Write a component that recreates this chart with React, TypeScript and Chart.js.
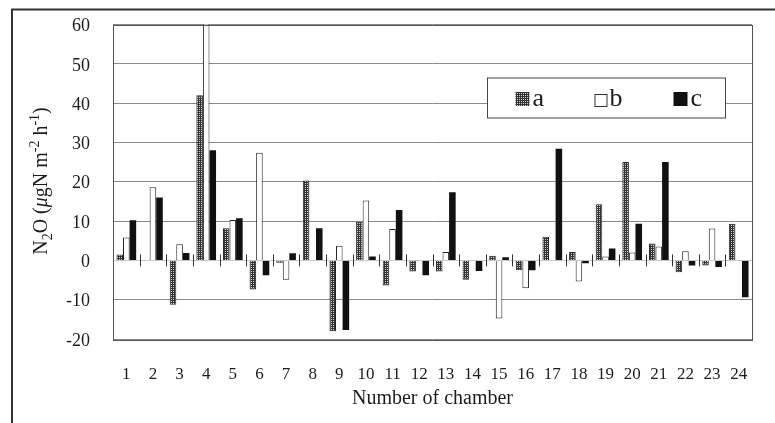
import React, { useEffect, useRef } from "react";
import { Chart, registerables } from "chart.js";

Chart.register(...registerables);

const chambers = ["1","2","3","4","5","6","7","8","9","10","11","12","13","14","15","16","17","18","19","20","21","22","23","24"];
const seriesA = [1.5, 0, -11.3, 42, 8.2, -7.4, -0.6, 20.3, -18, 9.8, -6.4, -2.8, -2.8, -4.9, 1.2, -2.5, 6, 2.1, 14.3, 25, 4.3, -3, -1.3, 9.3];
const seriesB = [5.8, 18.6, 4.1, 65, 10.3, 27.4, -4.9, 0, 3.7, 15.2, 8, 0, 2.1, 0, -14.8, -7.1, 0, -5.4, 1, 2, 3.5, 2.3, 8.1, 0];
const seriesC = [10.2, 16, 1.9, 28, 10.7, -3.8, 1.8, 8.2, -17.7, 1, 12.8, -3.8, 17.3, -2.7, 0.8, -2.5, 28.4, -0.7, 3, 9.3, 25, -1.3, -1.7, -9.4];
const seriesLabels = ["a", "b", "c"];
const yTicksMin = -20;
const yTicksMax = 60;
const yStep = 10;

const SERIF = "'Liberation Serif', 'Times New Roman', serif";
const INK = "#1c1c1c";

function makePattern(): CanvasPattern | string {
  const pc = document.createElement("canvas");
  pc.width = 4;
  pc.height = 4;
  const p = pc.getContext("2d");
  if (!p) return "#555";
  p.fillStyle = "#333333";
  p.fillRect(0, 0, 4, 4);
  p.fillStyle = "#cfcfcf";
  p.fillRect(1, 1, 1, 1);
  p.fillRect(3, 3, 1, 1);
  p.fillRect(1, 3, 1, 1);
  p.fillRect(3, 1, 1, 1);
  const ctx = document.createElement("canvas").getContext("2d");
  const pat = ctx ? ctx.createPattern(pc, "repeat") : null;
  return pat || "#555";
}

export default function App() {
  const ref = useRef<HTMLCanvasElement | null>(null);

  useEffect(() => {
    const canvas = ref.current;
    if (!canvas) return;
    const pattern = makePattern();

    const framePlugin = {
      id: "frame",
      beforeDraw(chart: any) {
        const { ctx } = chart;
        ctx.save();
        ctx.fillStyle = "#ffffff";
        ctx.fillRect(0, 0, chart.width, chart.height);
        ctx.strokeStyle = "#333";
        ctx.lineWidth = 2;
        ctx.beginPath();
        ctx.moveTo(12, chart.height);
        ctx.lineTo(12, 9.5);
        ctx.lineTo(chart.width, 9.5);
        ctx.stroke();
        ctx.restore();
      },
      afterDatasetsDraw(chart: any) {
        const { ctx, chartArea, scales } = chart;
        const x = scales.x;
        const y = scales.y;
        const y0 = y.getPixelForValue(0);
        ctx.save();
        ctx.strokeStyle = "#333";
        ctx.lineWidth = 1;
        ctx.beginPath();
        for (let k = 0; k <= chambers.length; k++) {
          const px = Math.round(x.getPixelForValue(k - 0.5)) + 0.5;
          ctx.moveTo(px, y0 - 6);
          ctx.lineTo(px, y0 + 6);
        }
        ctx.stroke();
        ctx.strokeStyle = "#555";
        ctx.lineWidth = 1;
        ctx.strokeRect(
          Math.round(chartArea.left) + 0.5,
          Math.round(chartArea.top) + 0.5,
          Math.round(chartArea.right - chartArea.left),
          Math.round(chartArea.bottom - chartArea.top)
        );
        ctx.restore();
      },
      afterDraw(chart: any) {
        const { ctx, chartArea } = chart;
        const bx = chartArea.left + 374.5;
        const by = chartArea.top + 53.5;
        const bw = 238;
        const bh = 40;
        ctx.save();
        ctx.fillStyle = "#fff";
        ctx.fillRect(bx, by, bw, bh);
        ctx.strokeStyle = "#444";
        ctx.lineWidth = 1;
        ctx.strokeRect(bx, by, bw, bh);
        ctx.font = `26px ${SERIF}`;
        ctx.textBaseline = "alphabetic";
        ctx.fillStyle = INK;
        const cy = by + 21;
        chart.data.datasets.forEach((ds: any, i: number) => {
          const sx = bx + 28 + i * 79;
          const size = i === 1 ? 12 : 14;
          const sy = cy - size / 2 + (i === 1 ? 1 : 0);
          ctx.fillStyle = ds.backgroundColor;
          ctx.fillRect(sx, sy, size, size);
          if (i === 1) {
            ctx.strokeStyle = "#333";
            ctx.strokeRect(sx + 0.5, sy + 0.5, size, size);
          }
          ctx.fillStyle = INK;
          ctx.fillText(ds.label, sx + size + 3, cy + 7);
        });

        const parts: [string, string, number][] = [
          ["N", "normal", 0],
          ["2", "sub", 0],
          ["O (", "normal", 0],
          ["\u03bc", "italic", 0],
          ["gN m", "normal", 0],
          ["-2", "sup", 0],
          [" h", "normal", 0],
          ["-1", "sup", 0],
          [")", "normal", 0],
        ];
        const big = 20;
        const small = 14;
        const fontFor = (kind: string) =>
          kind === "italic"
            ? `italic ${big}px ${SERIF}`
            : kind === "normal"
            ? `${big}px ${SERIF}`
            : `${small}px ${SERIF}`;
        let total = 0;
        parts.forEach((p) => {
          ctx.font = fontFor(p[1]);
          p[2] = ctx.measureText(p[0]).width;
          total += p[2];
        });
        ctx.translate(40, 181);
        ctx.rotate(-Math.PI / 2);
        ctx.textBaseline = "alphabetic";
        ctx.fillStyle = INK;
        let cx = -total / 2;
        const base = 7;
        parts.forEach((p) => {
          ctx.font = fontFor(p[1]);
          const dy = p[1] === "sub" ? 5 : p[1] === "sup" ? -8 : 0;
          ctx.fillText(p[0], cx, base + dy);
          cx += p[2];
        });
        ctx.restore();
      },
    };

    const chart = new Chart(canvas, {
      type: "bar",
      data: {
        labels: chambers,
        datasets: [
          {
            label: seriesLabels[0],
            data: seriesA,
            backgroundColor: pattern as any,
            borderColor: "#222",
            borderWidth: 1,
          },
          {
            label: seriesLabels[1],
            data: seriesB,
            backgroundColor: "#ffffff",
            borderColor: "#222",
            borderWidth: 1,
          },
          {
            label: seriesLabels[2],
            data: seriesC,
            backgroundColor: "#111111",
            borderColor: "#111111",
            borderWidth: 0,
          },
        ],
      },
      options: {
        responsive: false,
        animation: false,
        devicePixelRatio: 1,
        layout: { padding: { left: 0, right: 23, top: 24.5, bottom: 0 } },
        datasets: {
          bar: { categoryPercentage: 0.74, barPercentage: 1 },
        },
        plugins: {
          legend: { display: false },
          tooltip: { enabled: false },
        },
        scales: {
          x: {
            type: "category",
            offset: true,
            grid: { display: false, drawTicks: false },
            border: { display: false },
            ticks: {
              color: INK,
              font: { family: SERIF, size: 17 },
              padding: 25,
              maxRotation: 0,
              autoSkip: false,
            },
            title: {
              display: true,
              text: "Number of chamber",
              color: INK,
              font: { family: SERIF, size: 20 },
              padding: { top: 0, bottom: 12 },
            },
            afterFit: (s: any) => {
              s.height = 84;
            },
          },
          y: {
            min: yTicksMin,
            max: yTicksMax,
            ticks: {
              stepSize: yStep,
              color: INK,
              font: { family: SERIF, size: 18 },
              padding: 3,
              labelOffset: 2,
            },
            grid: {
              drawTicks: true,
              tickLength: 20,
              tickColor: "rgba(0,0,0,0)",
              color: (c: any) => (c.tick && c.tick.value === 0 ? "#c8c8c8" : "#8a8a8a"),
              lineWidth: 1,
            },
            border: { display: false },
            afterFit: (s: any) => {
              s.width = 113;
            },
          },
        },
      },
      plugins: [framePlugin],
    });

    return () => chart.destroy();
  }, []);

  return (
    <div style={{ position: "fixed", left: 0, top: 0, width: 775, height: 423, background: "#fff" }}>
      <canvas ref={ref} width={775} height={423} style={{ width: 775, height: 423, display: "block" }} />
    </div>
  );
}
